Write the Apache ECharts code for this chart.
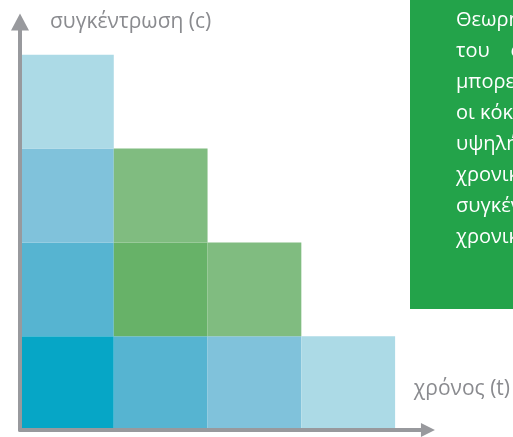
<!DOCTYPE html>
<html>
<head>
<meta charset="utf-8">
<script src="https://cdn.jsdelivr.net/npm/echarts@6/dist/echarts.min.js"></script>
<style>html,body{margin:0;padding:0;background:#fff}#c{width:513px;height:437px}</style>
</head>
<body>
<div id="c"></div>
<script>
// ---- data ----
const xAxisName = 'χρόνος (t)';
const yAxisName = 'συγκέντρωση (c)';
const cellTime = [0, 0, 0, 0, 1, 1, 1, 2, 2, 3];
const cellConc = [0, 1, 2, 3, 0, 1, 2, 0, 1, 0];
const cellGroup = ['blue', 'blue', 'blue', 'blue', 'blue', 'green', 'green', 'blue', 'green', 'blue'];
const cellLevel = [4, 3, 2, 1, 3, 2, 1, 2, 1, 1];
const noteLines = ['Θεωρητικά η', 'του    συγκεκριμένου', 'μπορεί να', 'οι κόκκινες', 'υψηλή', 'χρονική', 'συγκέντρωση', 'χρονική'];

// ---- styles ----
const palette = {
  blue: { 4: '#06a6c6', 3: '#56b4d1', 2: '#80c2db', 1: '#acdae6' },
  green: { 2: '#67b268', 1: '#80bc80' }
};
const axisGray = '#98999d';

const data = cellTime.map((t, i) => ({
  value: [t, cellConc[i]],
  itemStyle: { color: palette[cellGroup[i]][cellLevel[i]] }
}));

const chart = echarts.init(document.getElementById('c'), null, { renderer: 'canvas' });
chart.setOption({
  animation: false,
  backgroundColor: '#fff',
  grid: { left: 20, top: 22, right: 85, bottom: 7, containLabel: false },
  xAxis: {
    type: 'value', min: 0, max: 4.35, z: 5,
    name: xAxisName, nameLocation: 'end', nameGap: 34,
    nameTextStyle: { color: '#8a8b8f', fontSize: 21, fontFamily: 'Open Sans', align: 'center', verticalAlign: 'bottom', padding: [0, 0, 30, 0] },
    offset: 2,
    axisLine: { show: true, lineStyle: { color: axisGray, width: 4 }, symbol: ['none', 'triangle'], symbolSize: [14, 14], symbolOffset: [0, 0] },
    axisTick: { show: false }, axisLabel: { show: false }, splitLine: { show: false }
  },
  yAxis: {
    type: 'value', min: 0, max: 4.35, z: 5,
    name: yAxisName, nameLocation: 'end', nameGap: 0,
    nameTextStyle: { color: '#8a8b8f', fontSize: 21, fontFamily: 'Open Sans', align: 'left', verticalAlign: 'middle', padding: [0, 0, 0, 30] },
    offset: 3,
    axisLine: { show: true, lineStyle: { color: axisGray, width: 4 }, symbol: ['none', 'triangle'], symbolSize: [18, 17], symbolOffset: [0, 0] },
    axisTick: { show: false }, axisLabel: { show: false }, splitLine: { show: false }
  },
  series: [{
    type: 'custom',
    data: data,
    z: 1,
    renderItem: function (params, api) {
      const x = api.value(0), y = api.value(1);
      const p0 = api.coord([x, y + 1]);
      const p1 = api.coord([x + 1, y]);
      return {
        type: 'rect',
        shape: { x: p0[0], y: p0[1], width: p1[0] - p0[0], height: p1[1] - p0[1] },
        style: { fill: api.visual('color') }
      };
    }
  }],
  graphic: [
    { type: 'rect', left: 410, top: 0, z: 10, shape: { width: 110, height: 309 }, style: { fill: '#23a34a' } },
    {
      type: 'text', left: 456, top: 5, z: 11,
      style: { text: noteLines.join('\n'), fill: '#ffffff', font: '20px "Open Sans"', lineHeight: 31 }
    }
  ]
});
</script>
</body>
</html>
